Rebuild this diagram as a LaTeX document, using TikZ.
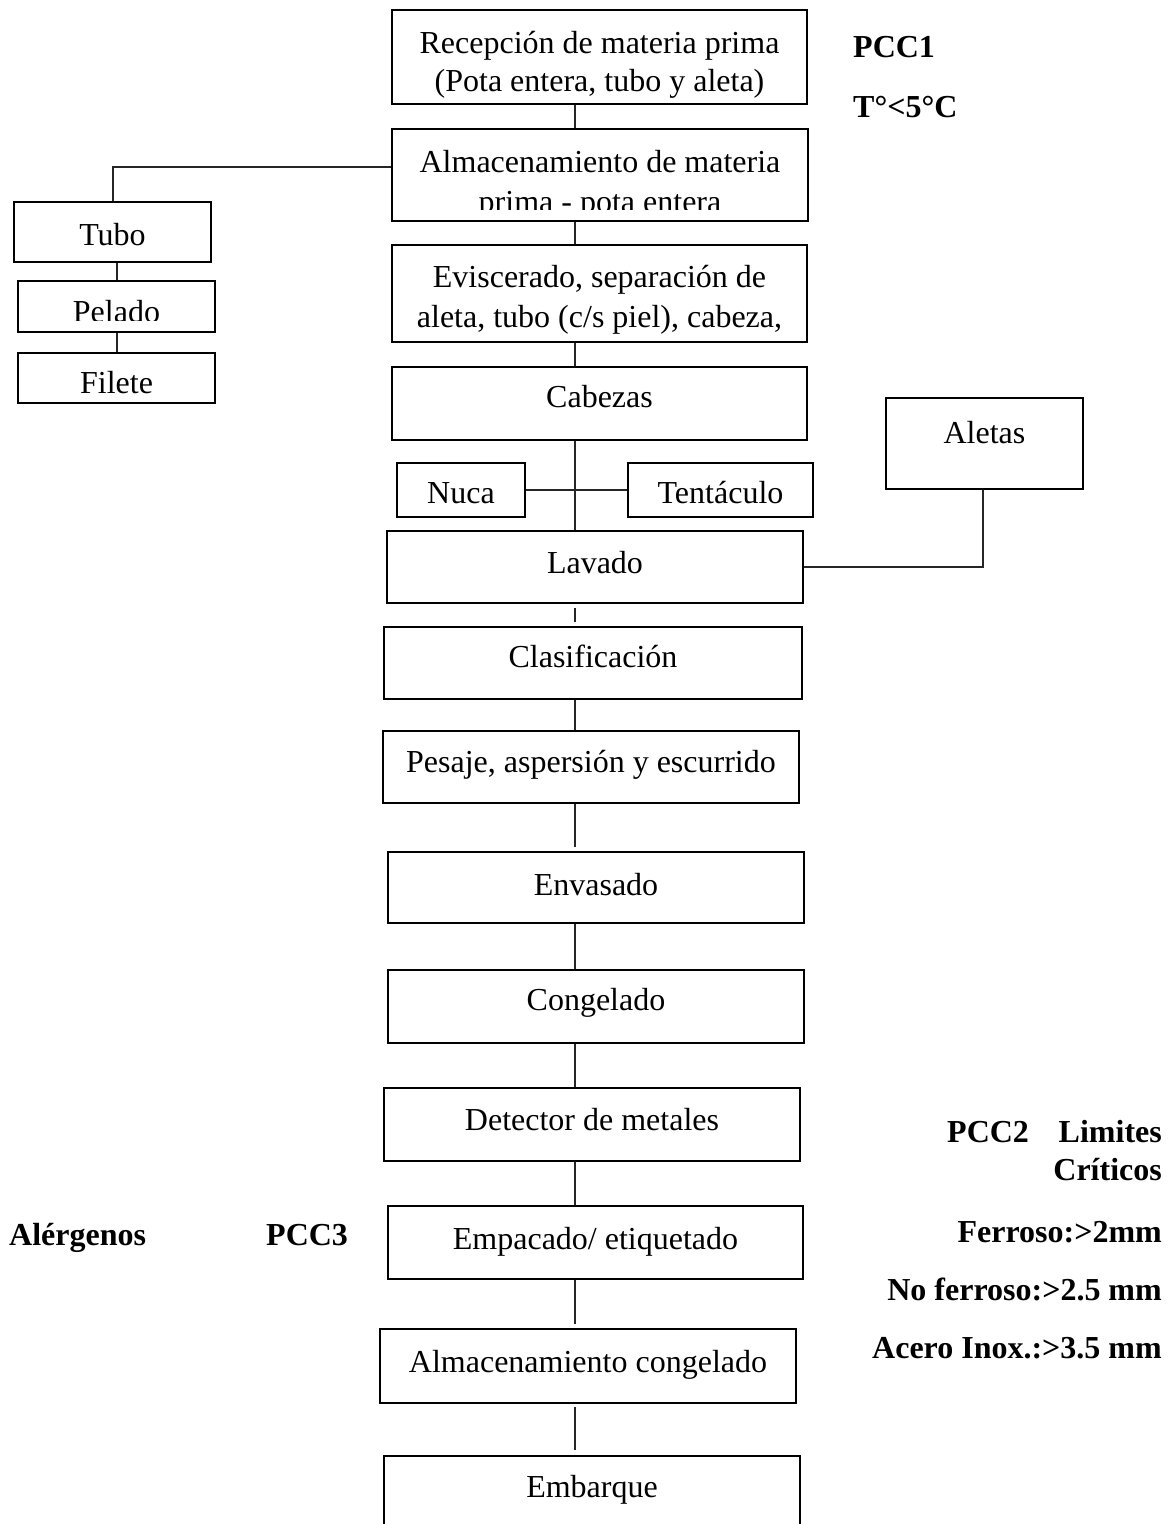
\documentclass[tikz,border=0pt]{standalone}
\usepackage{fontspec}
\setmainfont{Liberation Serif}
\usetikzlibrary{fit}

% one framed process step, given by its corners
\newcommand\flowbox[5]{\node[stepbox, fit={(#2,#3) (#4,#5)}] (#1) {};}

\begin{document}
\begin{tikzpicture}[x=1pt,y=-1pt,
  stepbox/.style={draw=black, line width=2.2pt, inner sep=0pt, rectangle},
  link/.style={draw=black!85, line width=1.1pt},
  lbl/.style={inner sep=0pt, anchor=base, font=\fontsize{32}{39}\selectfont},
  noteL/.style={inner sep=0pt, anchor=base west, font=\fontsize{32}{39}\selectfont\bfseries},
  noteR/.style={inner sep=0pt, anchor=base east, font=\fontsize{32}{39}\selectfont\bfseries},
]
\useasboundingbox (0,0) rectangle (1174,1524);

% main line of process steps
\flowbox{rec}{392}{10}{807}{104}
\flowbox{alm}{392}{129}{808}{221}
\flowbox{evi}{392}{245}{807}{342}
\flowbox{cab}{392}{367}{807}{440}
\flowbox{nuca}{397}{463}{525}{517}
\flowbox{tent}{628}{463}{813}{517}
\flowbox{aletas}{886}{398}{1083}{489}
\flowbox{lav}{387}{531}{803}{603}
\flowbox{cla}{384}{627}{802}{699}
\flowbox{pes}{383}{731}{799}{803}
\flowbox{env}{388}{852}{804}{923}
\flowbox{cong}{388}{970}{804}{1043}
\flowbox{det}{384}{1088}{800}{1161}
\flowbox{emp}{388}{1206}{803}{1279}
\flowbox{almc}{380}{1329}{796}{1403}
\flowbox{emb}{384}{1456}{800}{1540}

% tube branch
\flowbox{tubo}{14}{202}{211}{262}
\flowbox{pel}{18}{281}{215}{332}
\flowbox{fil}{18}{353}{215}{403}

% step texts
\node[lbl] (rec-a) at (599.5,53.5) {Recepción de materia prima};
\node[lbl] (rec-b) at (599.5,91.5) {(Pota entera, tubo y aleta)};
\node[lbl] (alm-a) at (600,172.5) {Almacenamiento de materia};
\begin{scope}
  \clip (380,120) rectangle (820,209);
  \node[lbl] (alm-b) at (600,212.5) {prima - pota entera};
\end{scope}
\node[lbl] (evi-a) at (599.5,287.5) {Eviscerado, separación de};
\node[lbl] (evi-b) at (599.5,327.5) {aleta, tubo (c/s piel), cabeza,};
\node[lbl] (cab-t) at (599.5,407.5) {Cabezas};
\node[lbl] (nuca-t) at (461,503.5) {Nuca};
\node[lbl] (tent-t) at (720.5,503.5) {Tentáculo};
\node[lbl] (aletas-t) at (984.5,443.5) {Aletas};
\node[lbl] (lav-t) at (595,573.5) {Lavado};
\node[lbl] (cla-t) at (593,667.5) {Clasificación};
\node[lbl] (pes-t) at (591,772.5) {Pesaje, aspersión y escurrido};
\node[lbl] (env-t) at (596,895.5) {Envasado};
\node[lbl] (cong-t) at (596,1010.5) {Congelado};
\node[lbl] (det-t) at (592,1130.5) {Detector de metales};
\node[lbl] (emp-t) at (595.5,1249.5) {Empacado/ etiquetado};
\node[lbl] (almc-t) at (588,1372.5) {Almacenamiento congelado};
\node[lbl] (emb-t) at (592,1497.5) {Embarque};
\node[lbl] (tubo-t) at (112.5,245.5) {Tubo};
\begin{scope}
  \clip (10,280) rectangle (220,320);
  \node[lbl] (pel-t) at (116.5,322.5) {Pelado};
\end{scope}
\node[lbl] (fil-t) at (116.5,393.5) {Filete};

% critical control points
\node[noteL] (pcc1) at (853,57.5) {PCC1};
\node[noteL] (temp) at (853,117.5) {T°<5°C};
\node[noteL] (pcc2) at (947,1142.5) {PCC2};
\node[noteR] (lim) at (1162,1142.5) {Limites};
\node[noteR] (crit) at (1162,1180.5) {Críticos};
\node[noteR] (ferr) at (1162,1242.5) {Ferroso:>2mm};
\node[noteR] (noferr) at (1162,1300.5) {No ferroso:>2.5 mm};
\node[noteR] (inox) at (1162,1358.5) {Acero Inox.:>3.5 mm};
\node[noteL] (alerg) at (9,1245.5) {Alérgenos};
\node[noteL] (pcc3) at (266,1245.5) {PCC3};

% connectors
\coordinate (spine) at (575,0);
\draw[link] (rec.south -| spine) -- (alm.north -| spine);
\draw[link] (alm.south -| spine) -- (evi.north -| spine);
\draw[link] (evi.south -| spine) -- (cab.north -| spine);
\draw[link] (cab.south -| spine) -- (lav.north -| spine);
\draw[link] (nuca.east) -- (tent.west);
\coordinate (aletabend) at (983,567);
\draw[link] (aletas.south -| aletabend) -- (aletabend) -- (lav.east |- aletabend);
\draw[link, shorten <=4pt, shorten >=4pt] (lav.south -| spine) -- (cla.north -| spine);
\draw[link] (cla.south -| spine) -- (pes.north -| spine);
\draw[link, shorten >=4pt] (pes.south -| spine) -- (env.north -| spine);
\draw[link] (env.south -| spine) -- (cong.north -| spine);
\draw[link] (cong.south -| spine) -- (det.north -| spine);
\draw[link] (det.south -| spine) -- (emp.north -| spine);
\draw[link, shorten >=4pt] (emp.south -| spine) -- (almc.north -| spine);
\draw[link, shorten <=3pt, shorten >=5pt] (almc.south -| spine) -- (emb.north -| spine);
\coordinate (tubojoin) at (113,167);
\draw[link] (alm.west |- tubojoin) -- (tubojoin) -- (tubo.north -| tubojoin);
\coordinate (leftspine) at (117,0);
\draw[link] (tubo.south -| leftspine) -- (pel.north -| leftspine);
\draw[link] (pel.south -| leftspine) -- (fil.north -| leftspine);
\end{tikzpicture}
\end{document}
